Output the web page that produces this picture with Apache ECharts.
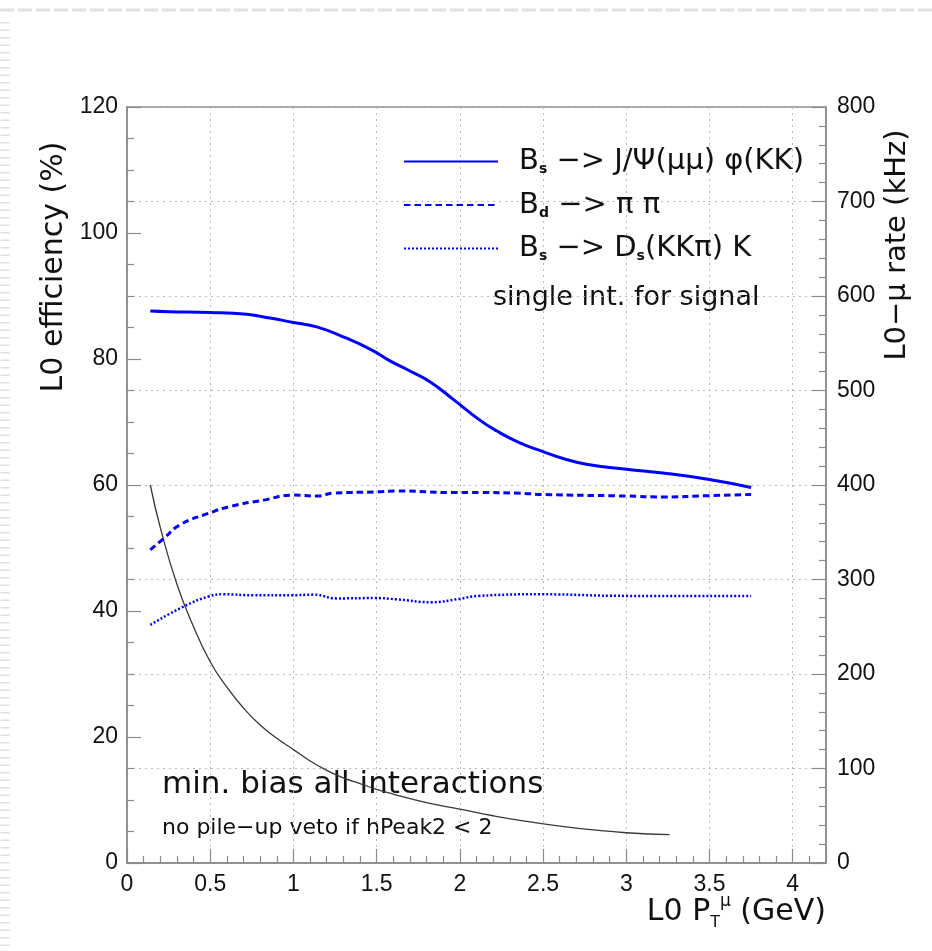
<!DOCTYPE html>
<html>
<head>
<meta charset="utf-8">
<script src="https://cdn.jsdelivr.net/npm/echarts@6/dist/echarts.min.js"></script>
<style>
  html, body { margin: 0; padding: 0; background: #fff; }
  #chart { width: 932px; height: 951px; }
</style>
</head>
<body>
<div id="chart"></div>
<script>
// L0 muon trigger: signal efficiency (left axis, %) and minimum-bias rate (right axis, kHz)
// as a function of the L0 muon PT cut.

// Bs -> J/psi(mumu) phi(KK)
const xJpsiPhi   = [0.14, 0.25, 0.5, 0.72, 0.86, 1.0, 1.14, 1.32, 1.48, 1.58, 1.7, 1.82, 1.96, 2.12, 2.22, 2.36, 2.5, 2.62, 2.76, 3.0, 3.22, 3.49, 3.75];
const effJpsiPhi = [87.6, 87.5, 87.4, 87.1, 86.5, 85.8, 85.1, 83.3, 81.3, 79.7, 78.1, 76.4, 73.6, 70.3, 68.6, 66.7, 65.3, 64.2, 63.3, 62.5, 61.9, 60.9, 59.6];

// Bd -> pi pi
const xPiPi   = [0.14, 0.22, 0.32, 0.49, 0.62, 0.82, 1.0, 1.14, 1.24, 1.49, 1.62, 1.96, 2.12, 2.36, 2.49, 3.0, 3.22, 3.49, 3.75];
const effPiPi = [49.7, 51.5, 53.7, 55.5, 56.6, 57.6, 58.4, 58.25, 58.7, 58.9, 59.05, 58.8, 58.8, 58.7, 58.5, 58.25, 58.1, 58.3, 58.5];

// Bs -> Ds(KKpi) K
const xDsK   = [0.14, 0.34, 0.49, 0.58, 0.76, 0.99, 1.12, 1.26, 1.49, 1.62, 1.83, 1.99, 2.11, 2.49, 3.0, 3.75];
const effDsK = [37.8, 40.7, 42.3, 42.65, 42.5, 42.5, 42.6, 42.0, 42.05, 41.85, 41.4, 41.9, 42.4, 42.65, 42.4, 42.4];

// minimum-bias L0-mu rate (kHz)
const xRate   = [0.14, 0.2, 0.3, 0.4, 0.5, 0.6, 0.7, 0.8, 0.9, 1.0, 1.1, 1.2, 1.3, 1.4, 1.5, 1.6, 1.8, 2.0, 2.2, 2.4, 2.6, 2.8, 3.0, 3.26];
const rateKHz = [400, 355, 295, 250, 213, 186, 164, 146, 132, 120, 108, 98, 90, 84, 78, 73, 64, 57, 50, 44, 39, 35, 32, 30];

// axis ranges and ticks
const xRange = [0, 4.2], xStep = 0.5;
const effRange = [0, 120], effStep = 20;
const rateRange = [0, 800], rateStep = 100;

const seriesNames = ['Bs->J/psi phi', 'Bd->pi pi', 'Bs->Ds K'];
const legendText = {
  'Bs->J/psi phi': '{t|B}{s|s}{t| −> J/Ψ(μμ) φ(KK)}',
  'Bd->pi pi':     '{t|B}{s|d}{t| −> π π}',
  'Bs->Ds K':      '{t|B}{s|s}{t| −> D}{s|s}{t|(KKπ) K}'
};

const pairs = (xs, ys) => xs.map((x, i) => [x, ys[i]]);

const tickFont = "'Liberation Sans', sans-serif";
const textFont = "'DejaVu Sans', sans-serif";
const frame = '#8a8a8a';
const blue = '#0000ff';

const chart = echarts.init(document.getElementById('chart'), null, { renderer: 'canvas' });

chart.setOption({
  backgroundColor: '#ffffff',
  animation: false,
  grid: {
    left: 127, right: 106, top: 107, bottom: 88,
    show: true, borderColor: frame, borderWidth: 1.5, backgroundColor: 'transparent'
  },
  xAxis: {
    type: 'value', min: xRange[0], max: xRange[1], interval: xStep,
    axisLine: { show: true, lineStyle: { color: frame, width: 1.5 } },
    axisTick: { show: true, inside: true, length: 14, lineStyle: { color: frame, width: 1.2 } },
    minorTick: { show: true, splitNumber: 5, length: 7, lineStyle: { color: frame, width: 1.2 } },
    splitLine: { show: true, lineStyle: { color: '#b8b8b8', type: [2, 4], width: 1 } },
    axisLabel: {
      showMaxLabel: false, margin: 10, color: '#111',
      fontFamily: tickFont, fontSize: 23
    }
  },
  yAxis: [
    {
      type: 'value', position: 'left', min: effRange[0], max: effRange[1], interval: effStep,
      axisLine: { show: true, lineStyle: { color: frame, width: 1.5 } },
      axisTick: { show: true, inside: true, length: 14, lineStyle: { color: frame, width: 1.2 } },
      minorTick: { show: true, splitNumber: 4, length: 7, lineStyle: { color: frame, width: 1.2 } },
      splitLine: { show: false },
      axisLabel: { margin: 9, color: '#111', fontFamily: tickFont, fontSize: 23 }
    },
    {
      type: 'value', position: 'right', min: rateRange[0], max: rateRange[1], interval: rateStep,
      axisLine: { show: true, lineStyle: { color: frame, width: 1.5 } },
      axisTick: { show: true, inside: true, length: 14, lineStyle: { color: frame, width: 1.2 } },
      minorTick: { show: true, splitNumber: 5, length: 7, lineStyle: { color: frame, width: 1.2 } },
      splitLine: { show: true, lineStyle: { color: '#b8b8b8', type: [2, 4], width: 1 } },
      axisLabel: { margin: 11, color: '#111', fontFamily: tickFont, fontSize: 23 }
    }
  ],
  legend: {
    data: seriesNames,
    orient: 'vertical',
    left: 398, top: 142,
    itemWidth: 94, itemHeight: 14, itemGap: 14,
    itemStyle: { opacity: 0 },
    formatter: name => legendText[name],
    textStyle: {
      color: '#111', fontFamily: textFont, fontSize: 29, padding: [0, 0, 0, 16],
      rich: {
        t: { fontFamily: textFont, fontSize: 29, lineHeight: 30, color: '#111' },
        s: { fontFamily: textFont, fontSize: 14, lineHeight: 16, verticalAlign: 'bottom', color: '#111', fontWeight: 'bold' }
      }
    },
    selectedMode: false
  },
  series: [
    {
      name: 'rate', type: 'line', yAxisIndex: 1, data: pairs(xRate, rateKHz),
      symbol: 'none', smooth: 0.5,
      lineStyle: { color: '#383838', width: 1.3 }, z: 2
    },
    {
      name: seriesNames[0], type: 'line', yAxisIndex: 0, data: pairs(xJpsiPhi, effJpsiPhi),
      symbol: 'none', smooth: 0.5,
      itemStyle: { color: blue },
      lineStyle: { color: blue, width: 3 }, z: 3
    },
    {
      name: seriesNames[1], type: 'line', yAxisIndex: 0, data: pairs(xPiPi, effPiPi),
      symbol: 'none', smooth: 0.5,
      itemStyle: { color: blue },
      lineStyle: { color: blue, width: 3, type: [6.5, 4] }, z: 3
    },
    {
      name: seriesNames[2], type: 'line', yAxisIndex: 0, data: pairs(xDsK, effDsK),
      symbol: 'none', smooth: 0.5,
      itemStyle: { color: blue },
      lineStyle: { color: blue, width: 2.5, type: [2, 2] }, z: 3
    }
  ],
  graphic: [
    // faint page border decoration
    { type: 'line', silent: true, shape: { x1: 0, y1: 10, x2: 932, y2: 10 },
      style: { stroke: '#e0e0e0', lineWidth: 3, lineDash: [14, 4] } },
    { type: 'line', silent: true, shape: { x1: 5, y1: 22, x2: 5, y2: 951 },
      style: { stroke: '#dedede', lineWidth: 9, lineDash: [1.5, 6] } },
    // axis titles
    { type: 'text', x: 54, y: 267, rotation: Math.PI / 2,
      style: { text: 'L0 efficiency (%)', fontFamily: textFont, fontSize: 30, fill: '#111',
               align: 'center', verticalAlign: 'middle' } },
    { type: 'text', x: 897, y: 245, rotation: Math.PI / 2,
      style: { text: 'L0−μ rate (kHz)', fontFamily: textFont, fontSize: 29, fill: '#111',
               align: 'center', verticalAlign: 'middle' } },
    { type: 'text', x: 826, y: 912,
      style: {
        text: '{t|L0 P}{s|T}{u|μ}{t| (GeV)}', align: 'right', verticalAlign: 'middle',
        rich: {
          t: { fontFamily: textFont, fontSize: 30, lineHeight: 38, fill: '#111' },
          s: { fontFamily: textFont, fontSize: 16, lineHeight: 20, verticalAlign: 'bottom', fill: '#111' },
          u: { fontFamily: textFont, fontSize: 17, lineHeight: 22, verticalAlign: 'top', fill: '#111' }
        }
      } },
    // annotations
    { type: 'text', x: 493, y: 298,
      style: { text: 'single int. for signal', fontFamily: textFont, fontSize: 27, fill: '#111',
               align: 'left', verticalAlign: 'middle' } },
    { type: 'text', x: 162, y: 785,
      style: { text: 'min. bias all interactions', fontFamily: textFont, fontSize: 31, fill: '#111',
               align: 'left', verticalAlign: 'middle' } },
    { type: 'text', x: 162, y: 828,
      style: { text: 'no pile−up veto if hPeak2 < 2', fontFamily: textFont, fontSize: 22, fill: '#111',
               align: 'left', verticalAlign: 'middle' } }
  ]
});
</script>
</body>
</html>
